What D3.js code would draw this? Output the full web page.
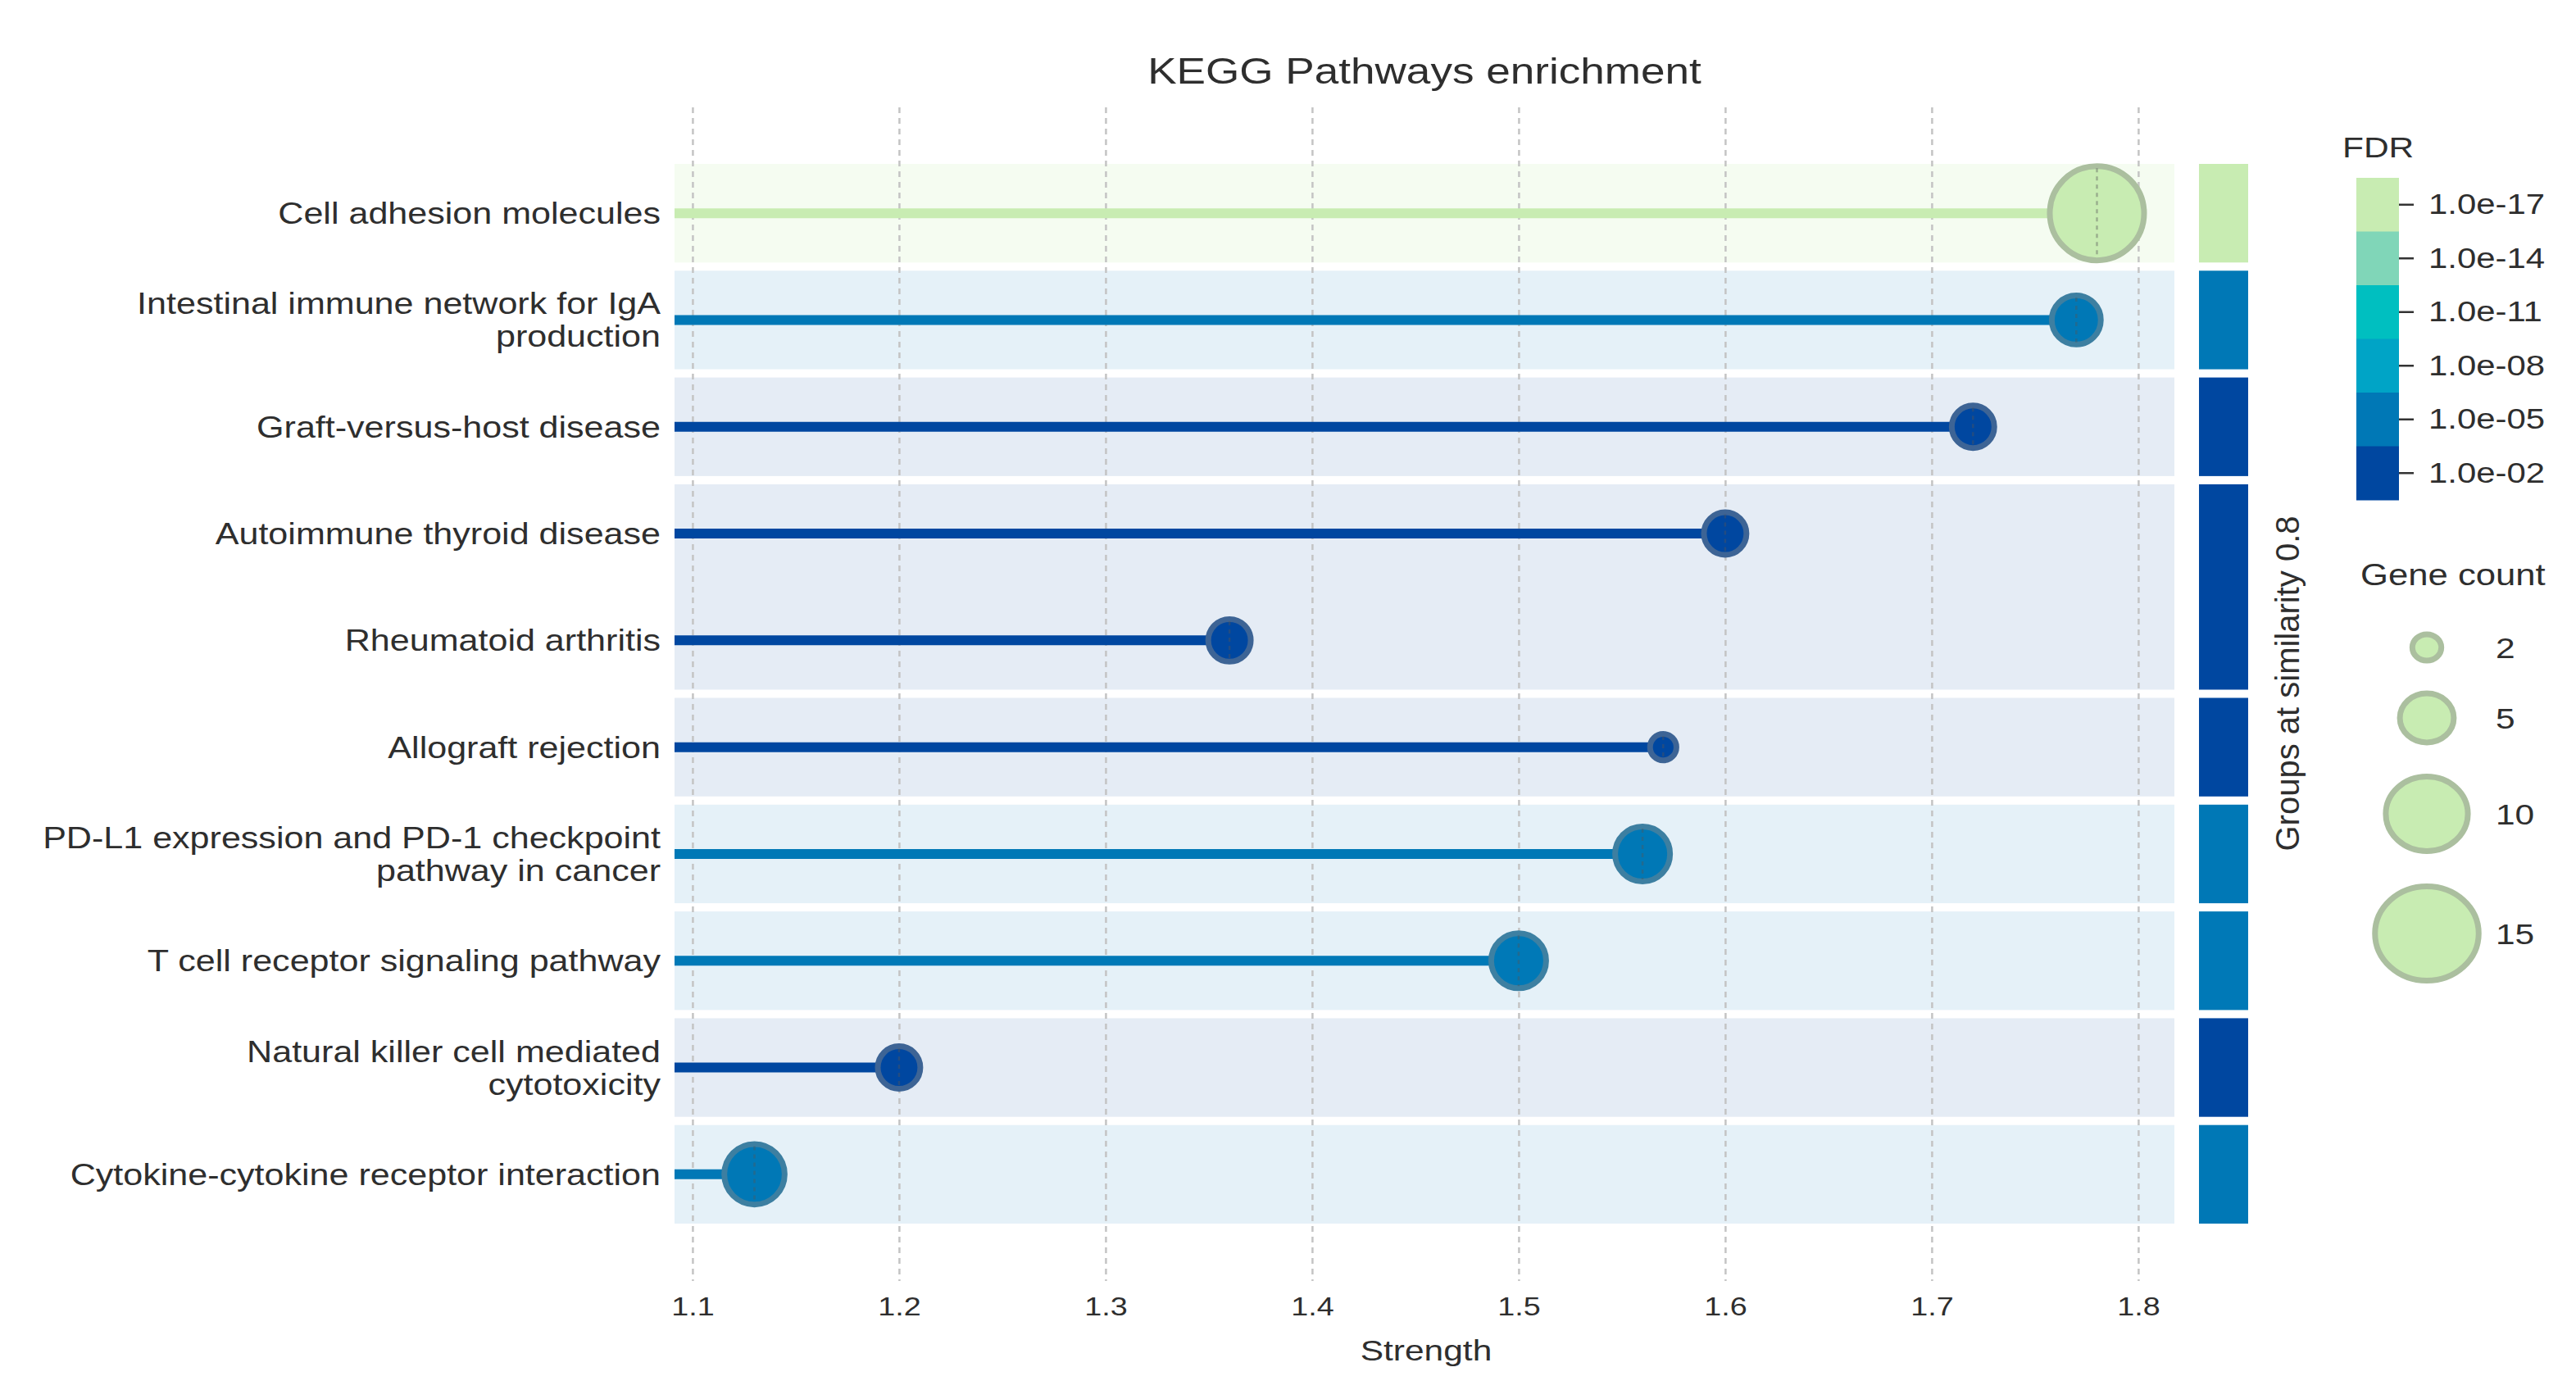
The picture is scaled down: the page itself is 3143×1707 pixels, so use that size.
<!DOCTYPE html>
<html>
<head>
<meta charset="utf-8">
<script src="https://cdn.jsdelivr.net/npm/d3@7"></script>
<style>
  body { margin: 0; background: #fff; }
  text { font-family: "Liberation Sans", Arial, sans-serif; fill: #2e2e2e; }
</style>
</head>
<body>
<div id="chart"></div>
<script>
// data
var pathways = [
  "Cell adhesion molecules",
  "Intestinal immune network for IgA production",
  "Graft-versus-host disease",
  "Autoimmune thyroid disease",
  "Rheumatoid arthritis",
  "Allograft rejection",
  "PD-L1 expression and PD-1 checkpoint pathway in cancer",
  "T cell receptor signaling pathway",
  "Natural killer cell mediated cytotoxicity",
  "Cytokine-cytokine receptor interaction"
];
var strength = [1.78, 1.77, 1.72, 1.60, 1.36, 1.57, 1.56, 1.50, 1.20, 1.13];
var geneCount = [15, 5, 4, 4, 4, 2, 6, 6, 4, 7];
var fdr = [1e-17, 1e-5, 0.02, 0.02, 0.02, 0.02, 1e-5, 8e-6, 0.02, 1e-5];
var groupOf = [0, 1, 2, 3, 3, 4, 5, 6, 7, 8];

var xTicks = [1.1, 1.2, 1.3, 1.4, 1.5, 1.6, 1.7, 1.8];
var fdrExp = [-17, -14, -11, -8, -5, -2];
var fdrTicks = ["1.0e-17", "1.0e-14", "1.0e-11", "1.0e-08", "1.0e-05", "1.0e-02"];
var fdrColors = ["#c8ecb2", "#80d6b8", "#00bfc0", "#00a4c6", "#0078b6", "#0047a0"];
var sizeTicks = [2, 5, 10, 15];

var W = 3143, H = 1707;
var SX = 1.18; // text in the picture is a little wide

var svg = d3.select("#chart").append("svg")
    .attr("width", W)
    .attr("height", H);

var x = d3.scaleLinear().domain([1.0913, 1.8175]).range([823, 2653]);
var y = d3.scaleBand().domain(d3.range(pathways.length)).range([195, 1498]);
var cy = function(i) { return y(i) + y.bandwidth() / 2; };
var color = d3.scaleLinear().domain(fdrExp).range(fdrColors).clamp(true);
var size = d3.scalePow().exponent(0.5).domain([1, 15]).range([12.6, 61]);
var ring = function(c) { return d3.interpolateRgb(c, "#888")(0.45); };

var fdrColor = function(i) { return color(Math.log10(fdr[i])); };

var place = function(sel, px, py) {
  return sel.attr("transform", "translate(" + px + "," + py + ") scale(" + SX + ",1)");
};

function wrap(s, max) {
  var words = s.split(" "), lines = [], cur = "";
  words.forEach(function(w) {
    if (cur && (cur + " " + w).length > max) { lines.push(cur); cur = w; }
    else cur = cur ? cur + " " + w : w;
  });
  lines.push(cur);
  return lines;
}

// title
place(svg.append("text"), 1738, 102)
    .attr("text-anchor", "middle")
    .style("font-size", "45px")
    .text("KEGG Pathways enrichment");

// group bands
var groups = d3.groups(d3.range(pathways.length), function(i) { return groupOf[i]; });
var inset = 5;

svg.append("g").selectAll("rect")
    .data(groups)
  .enter().append("rect")
    .attr("x", x.range()[0])
    .attr("width", x.range()[1] - x.range()[0])
    .attr("y", function(g) { return y(g[1][0]) + inset; })
    .attr("height", function(g) { return g[1].length * y.step() - 2 * inset; })
    .attr("fill", function(g) { return fdrColor(g[1][0]); })
    .attr("fill-opacity", function(g) { return g[0] === 0 ? 0.18 : 0.1; });

// group colour bars
svg.append("g").selectAll("rect")
    .data(groups)
  .enter().append("rect")
    .attr("x", 2683)
    .attr("width", 60)
    .attr("y", function(g) { return y(g[1][0]) + inset; })
    .attr("height", function(g) { return g[1].length * y.step() - 2 * inset; })
    .attr("fill", function(g) { return fdrColor(g[1][0]); });

svg.append("text")
    .attr("transform", "translate(2805,834) rotate(-90)")
    .attr("text-anchor", "middle")
    .style("font-size", "40px")
    .text("Groups at similarity 0.8");

// grid lines
var grid = svg.append("g")
    .attr("transform", "translate(0,131)")
    .call(d3.axisTop(x).tickValues(xTicks).tickSize(-(1563 - 131)).tickFormat(""));
grid.select(".domain").remove();
grid.selectAll("line")
    .attr("stroke", "#c4c4c4")
    .attr("stroke-width", 2.5)
    .attr("stroke-dasharray", "7,6");

// x axis labels
var xAxis = svg.append("g")
    .attr("transform", "translate(0,1563)")
    .call(d3.axisBottom(x).tickValues(xTicks).tickSize(0).tickPadding(19).tickFormat(d3.format(".1f")));
xAxis.select(".domain").remove();
xAxis.selectAll("text")
    .attr("transform", "scale(" + SX + ",1)")
    .style("font-size", "32px")
    .style("font-family", "'Liberation Sans', Arial, sans-serif")
    .attr("fill", "#2e2e2e");

place(svg.append("text"), 1740, 1660)
    .attr("text-anchor", "middle")
    .style("font-size", "36px")
    .text("Strength");

// row labels
var rows = d3.range(pathways.length);
rows.forEach(function(i) {
  var lines = wrap(pathways[i], 40);
  lines.forEach(function(l, k) {
    place(svg.append("text"), 806, cy(i) + 13 + (k - (lines.length - 1) / 2) * 40)
        .attr("text-anchor", "end")
        .style("font-size", "36.5px")
        .text(l);
  });
});

// lollipops
svg.append("g").selectAll("line")
    .data(rows)
  .enter().append("line")
    .attr("x1", x.range()[0])
    .attr("x2", function(i) { return x(strength[i]); })
    .attr("y1", cy)
    .attr("y2", cy)
    .attr("stroke", fdrColor)
    .attr("stroke-width", 12);

svg.append("g").selectAll("circle")
    .data(rows)
  .enter().append("circle")
    .attr("cx", function(i) { return x(strength[i]); })
    .attr("cy", cy)
    .attr("r", function(i) { return size(geneCount[i]) - 3.5; })
    .attr("fill", fdrColor)
    .attr("stroke", function(i) { return ring(fdrColor(i)); })
    .attr("stroke-width", 7);

svg.append("g").selectAll("line")
    .data(rows)
  .enter().append("line")
    .attr("x1", function(i) { return x(strength[i]); })
    .attr("x2", function(i) { return x(strength[i]); })
    .attr("y1", function(i) { return cy(i) - size(geneCount[i]) + 6; })
    .attr("y2", function(i) { return cy(i) + size(geneCount[i]) - 6; })
    .attr("stroke", "#555")
    .attr("stroke-opacity", 0.4)
    .attr("stroke-width", 2.5)
    .attr("stroke-dasharray", "5,5");

// FDR legend
place(svg.append("text"), 2858, 192)
    .style("font-size", "36px")
    .text("FDR");

var ly = d3.scaleBand().domain(fdrTicks).range([217, 610]);
svg.append("g").selectAll("rect")
    .data(fdrTicks)
  .enter().append("rect")
    .attr("x", 2875)
    .attr("width", 52)
    .attr("y", function(d) { return ly(d); })
    .attr("height", ly.bandwidth() + 0.5)
    .attr("fill", function(d, i) { return fdrColors[i]; });

var fdrAxis = svg.append("g")
    .attr("transform", "translate(2927,0)")
    .call(d3.axisRight(ly).tickSize(18).tickPadding(18));
fdrAxis.select(".domain").remove();
fdrAxis.selectAll("line").attr("stroke", "#333").attr("stroke-width", 2.5);
fdrAxis.selectAll("text")
    .attr("transform", "scale(" + SX + ",1)")
    .attr("x", 36 / SX)
    .style("font-size", "35.5px")
    .style("font-family", "'Liberation Sans', Arial, sans-serif")
    .attr("fill", "#2e2e2e");

// gene count legend
place(svg.append("text"), 2880, 714)
    .style("font-size", "37px")
    .text("Gene count");

var sy = d3.scaleOrdinal().domain(sizeTicks).range([790, 876, 993, 1139]);
var sizeLeg = svg.append("g").selectAll("g")
    .data(sizeTicks)
  .enter().append("g");

sizeLeg.append("ellipse")
    .attr("cx", 2961)
    .attr("cy", function(d) { return sy(d); })
    .attr("ry", function(d) { return size(d) - 3.5; })
    .attr("rx", function(d) { return (size(d) - 3.5) * 1.1; })
    .attr("fill", fdrColors[0])
    .attr("stroke", ring(fdrColors[0]))
    .attr("stroke-width", 7);

sizeLeg.each(function(d) {
  place(d3.select(this).append("text"), 3045, sy(d) + 13)
      .style("font-size", "36px")
      .text(d);
});
</script>
</body>
</html>
